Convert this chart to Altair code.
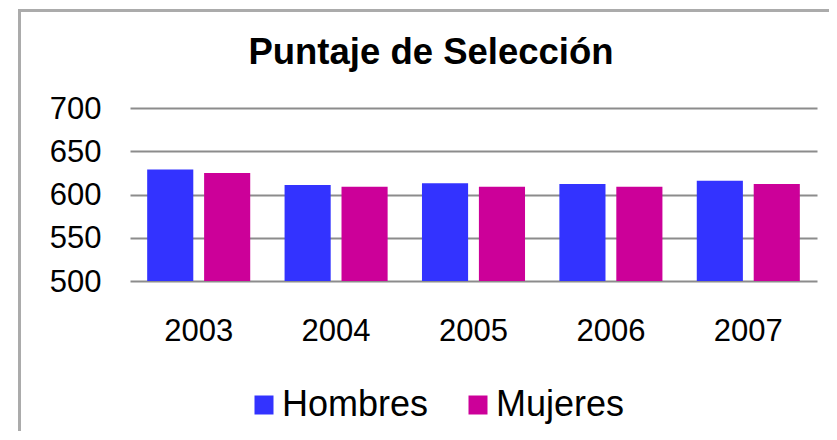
import altair as alt
import pandas as pd

years = ["2003", "2004", "2005", "2006", "2007"]
hombres = [629, 611, 613, 612, 616]
mujeres = [625, 609, 609, 609, 612]
series = ["Hombres", "Mujeres"]
colors = ["#3333FF", "#CC0099"]
y_ticks = [500, 550, 600, 650, 700]
title_text = "Puntaje de Selección"

rows = []
for i, yr in enumerate(years):
    rows.append({"year": yr, "serie": series[0], "value": hombres[i]})
    rows.append({"year": yr, "serie": series[1], "value": mujeres[i]})
df = pd.DataFrame(rows)

FONT = "Liberation Sans"
W, H = 687, 173

bars = alt.Chart(df).mark_bar().encode(
    x=alt.X("year:N", sort=years, title=None,
            scale=alt.Scale(paddingInner=0.25, paddingOuter=0.125),
            axis=alt.Axis(labelAngle=0, ticks=False, tickSize=0, domain=False, grid=False,
                          labelFontSize=31, labelPadding=35, labelColor="#000000",
                          labelFont=FONT)),
    xOffset=alt.XOffset("serie:N", sort=series,
                        scale=alt.Scale(paddingInner=0.19, paddingOuter=0)),
    y=alt.Y("value:Q", title=None,
            scale=alt.Scale(domain=[500, 700], nice=False, zero=False),
            axis=alt.Axis(values=y_ticks, ticks=False, tickSize=0, domain=False,
                          grid=True, gridColor="#8c8c8c", gridWidth=2,
                          labelFontSize=31, labelPadding=29, labelColor="#000000",
                          labelFont=FONT, labelOffset=1)),
    y2=alt.datum(500),
    color=alt.Color("serie:N", sort=series,
                    scale=alt.Scale(domain=series, range=colors),
                    legend=alt.Legend(title=None, orient="none", legendX=116, legendY=279,
                                      direction="horizontal", symbolType="square",
                                      symbolSize=361, symbolStrokeWidth=0,
                                      labelFontSize=36, labelFont=FONT, labelColor="#000000",
                                      labelOffset=0, columnPadding=31, padding=0,
                                      labelLimit=300)),
)

frame = alt.Chart(pd.DataFrame({"k": [0]})).mark_rect(
    fill="white", fillOpacity=0, stroke="#ababab", strokeWidth=3
).encode(
    x=alt.value(-110.5), x2=alt.value(900),
    y=alt.value(-97.5), y2=alt.value(600),
)

title = alt.Chart(pd.DataFrame({"t": [title_text]})).mark_text(
    font=FONT, fontSize=36.5, fontWeight="bold", color="#000000",
    align="center", baseline="alphabetic"
).encode(
    text="t:N", x=alt.value(301), y=alt.value(-44),
)

chart = alt.layer(frame, bars, title).properties(
    width=W, height=H,
    autosize=alt.AutoSizeParams(type="none"),
    padding={"left": 122, "top": 100, "right": 12, "bottom": 150},
).configure(font=FONT).configure_view(stroke=None)

chart.save("out.html", embed_options={"renderer": "svg", "actions": False})
